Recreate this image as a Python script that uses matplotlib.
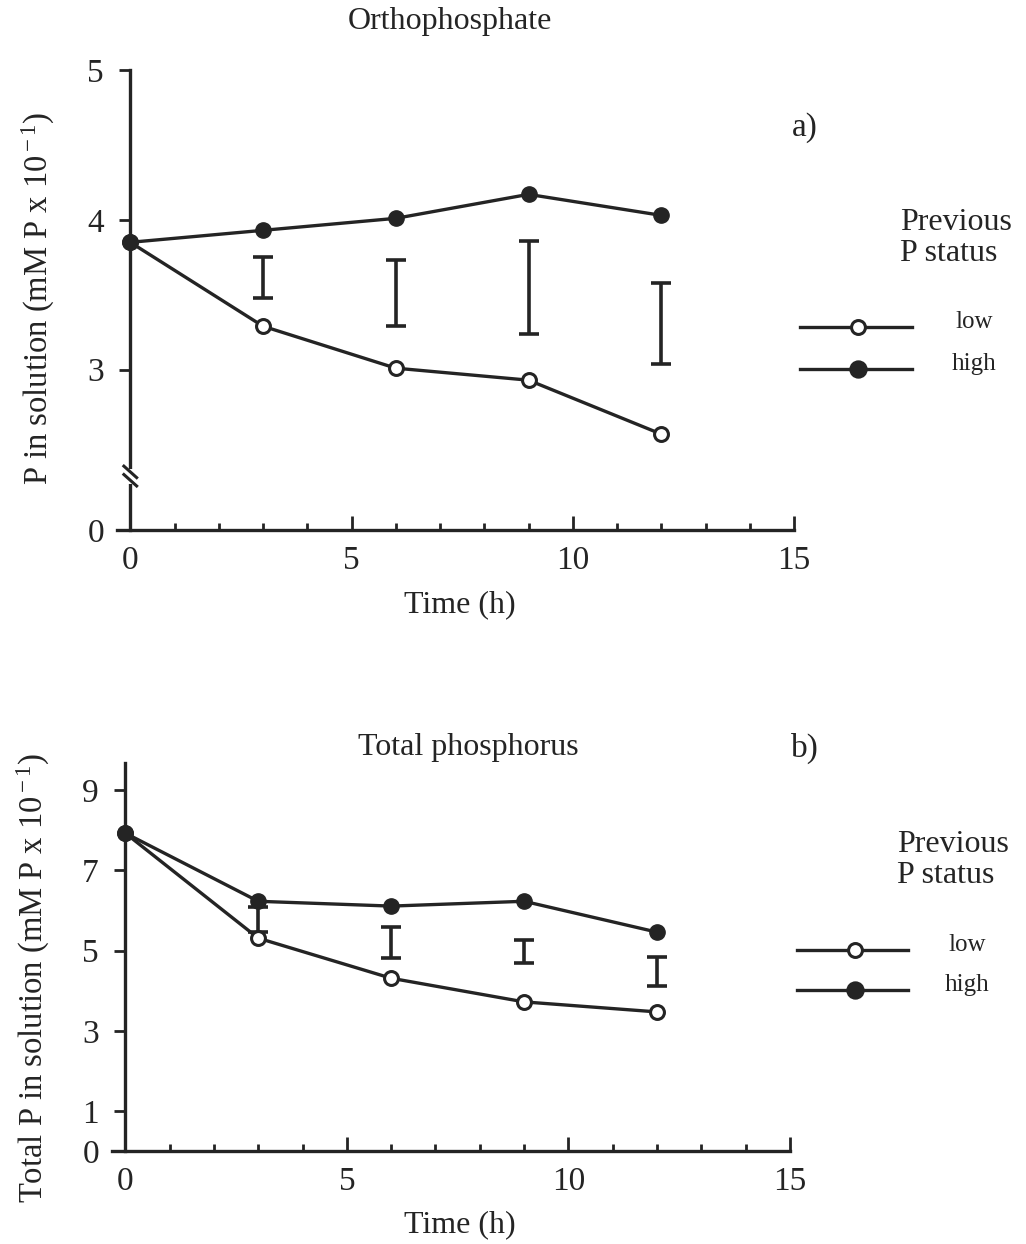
import matplotlib
matplotlib.use('Agg')
import matplotlib.pyplot as plt
from matplotlib.lines import Line2D
from matplotlib.ticker import MultipleLocator

plt.rcParams['font.family'] = ['Liberation Serif', 'DejaVu Serif']
plt.rcParams['mathtext.fontset'] = 'custom'
plt.rcParams['mathtext.rm'] = 'Liberation Serif'
plt.rcParams['mathtext.it'] = 'Liberation Serif:italic'

INK = '#242424'

# time points (h)
time = [0, 3, 6, 9, 12]
err_time = [3, 6, 9, 12]

# a) orthophosphate (mM P x 10^-1)
ortho_low = [3.85, 3.29, 3.01, 2.93, 2.57]
ortho_high = [3.85, 3.93, 4.01, 4.17, 4.03]
ortho_err_top = [3.75, 3.73, 3.86, 3.58]
ortho_err_bot = [3.48, 3.29, 3.24, 3.04]

# b) total phosphorus (mM P x 10^-1)
total_low = [7.93, 5.31, 4.31, 3.72, 3.47]
total_high = [7.93, 6.23, 6.11, 6.23, 5.46]
total_err_top = [6.08, 5.59, 5.26, 4.84]
total_err_bot = [5.46, 4.81, 4.69, 4.11]

W, H = 1026, 1244
fig = plt.figure(figsize=(W / 100, H / 100), dpi=100)


def fx(px):
    return px / W


def fy(py):
    return 1 - py / H


def style_axes(ax):
    for s in ['top', 'right']:
        ax.spines[s].set_visible(False)
    ax.spines['left'].set_position(('data', 0))
    for s in ['left', 'bottom']:
        ax.spines[s].set_linewidth(2.4)
        ax.spines[s].set_color(INK)
    ax.set_xlim(-0.3, 15)
    ax.xaxis.set_major_locator(MultipleLocator(5))
    ax.xaxis.set_minor_locator(MultipleLocator(1))
    ax.tick_params(axis='x', which='major', direction='in', length=10, width=2,
                   color=INK, labelsize=24, pad=11, labelcolor=INK)
    ax.tick_params(axis='x', which='minor', direction='in', length=5, width=2, color=INK)
    ax.tick_params(axis='y', which='major', direction='out', length=8, width=2,
                   color=INK, labelsize=24, pad=11, labelcolor=INK)
    ax.patch.set_alpha(0)


def draw_series(ax, low, high, etop, ebot):
    ax.plot(time, low, color=INK, lw=2.4, marker='o', ms=10, mfc='white',
            mec=INK, mew=2.2, zorder=3, clip_on=False)
    ax.plot(time, high, color=INK, lw=2.4, marker='o', ms=11, mfc=INK,
            mec=INK, zorder=4, clip_on=False)
    mid = [(a + b) / 2 for a, b in zip(etop, ebot)]
    half = [(a - b) / 2 for a, b in zip(etop, ebot)]
    ax.errorbar(err_time, mid, yerr=half, fmt='none', ecolor=INK,
                elinewidth=2.6, capsize=7, capthick=2.6, zorder=2)


# ---- a) orthophosphate, broken y axis ----
ax1 = fig.add_axes([fx(117), fy(530), fx(794 - 117), (530 - 70) / H])
style_axes(ax1)
y0 = 1.93
ax1.set_ylim(y0, 5)
ax1.set_yticks([y0, 3, 4, 5])
ax1.set_yticklabels(['0', '3', '4', '5'])
ax1.spines['left'].set_bounds(y0, 5)
draw_series(ax1, ortho_low, ortho_high, ortho_err_top, ortho_err_bot)
# axis break
ax1.plot([0, 0], [2.265, 2.315], color='white', lw=5, zorder=5, clip_on=False)
for yb in [2.262, 2.318]:
    ax1.plot([-0.17, 0.17], [yb + 0.045, yb - 0.045], color=INK, lw=2.2,
             zorder=6, clip_on=False, solid_capstyle='butt')

# ---- b) total phosphorus ----
ax2 = fig.add_axes([fx(112), fy(1151), fx(790 - 112), (1151 - 763) / H])
style_axes(ax2)
ax2.set_ylim(0, 9.68)
ax2.set_yticks([0, 1, 3, 5, 7, 9])
draw_series(ax2, total_low, total_high, total_err_top, total_err_bot)

# texts
fig.text(fx(450), fy(22), 'Orthophosphate', ha='center', va='center', fontsize=23, color=INK)
fig.text(fx(468), fy(748), 'Total phosphorus', ha='center', va='center', fontsize=23, color=INK)
fig.text(fx(805), fy(128), 'a)', ha='center', va='center', fontsize=24, color=INK)
fig.text(fx(805), fy(748), 'b)', ha='center', va='center', fontsize=24, color=INK)
fig.text(fx(460), fy(605), 'Time (h)', ha='center', va='center', fontsize=23, color=INK)
fig.text(fx(460), fy(1225), 'Time (h)', ha='center', va='center', fontsize=23, color=INK)
fig.text(fx(38), fy(298), r'P in solution (mM P x 10$^{\rm -1}$)', rotation=90,
         ha='center', va='center', fontsize=23.5, color=INK)
fig.text(fx(33), fy(978), r'Total P in solution (mM P x 10$^{\rm -1}$)', rotation=90,
         ha='center', va='center', fontsize=23.5, color=INK)


def legend_block(xl, xr, xm, ytitle, ylow, yhigh, xtext):
    fig.text(fx(xl + 100), fy(ytitle), 'Previous\nP status', ha='left', va='center',
             fontsize=23, color=INK, linespacing=1.05)
    for yy, fill in [(ylow, 'white'), (yhigh, INK)]:
        fig.add_artist(Line2D([fx(xl), fx(xr)], [fy(yy), fy(yy)], color=INK, lw=2.4))
        fig.add_artist(Line2D([fx(xm)], [fy(yy)], marker='o', ms=10 if fill == 'white' else 11,
                              mfc=fill, mec=INK, mew=2.2, color=INK))
    fig.text(fx(xtext), fy(ylow - 5), 'low', ha='center', va='center', fontsize=18, color=INK)
    fig.text(fx(xtext), fy(yhigh - 5), 'high', ha='center', va='center', fontsize=18, color=INK)


legend_block(800, 912, 858, 238, 327, 369, 974)
legend_block(797, 908, 855, 860, 950, 990, 967)

fig.savefig('out.png', dpi=100)
